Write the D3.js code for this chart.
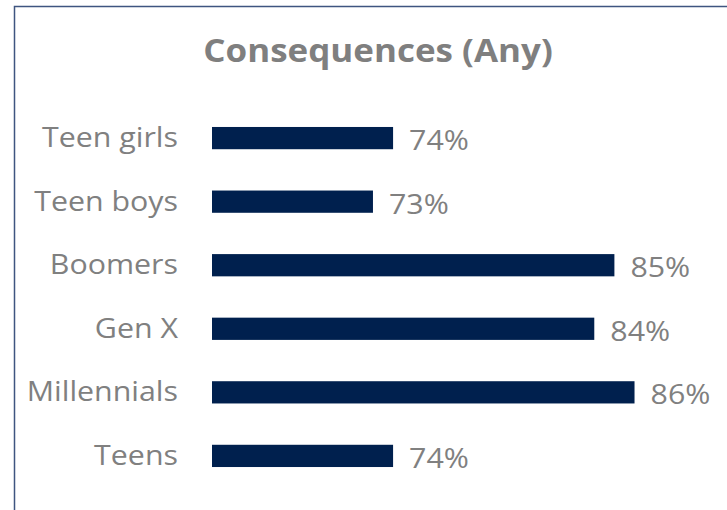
<!DOCTYPE html>
<html>
<head>
<meta charset="utf-8">
<script src="https://cdn.jsdelivr.net/npm/d3@7"></script>
<style>
  body { margin: 0; background: #fff; }
  svg { display: block; font-family: "Open Sans", "Noto Sans", sans-serif; }
</style>
</head>
<body>
<svg id="chart" width="727" height="510"></svg>
<script>
// Donnees du graphique
const categories = ["Teen girls", "Teen boys", "Boomers", "Gen X", "Millennials", "Teens"];
const values = [0.74, 0.73, 0.85, 0.84, 0.86, 0.74];
const title = "Consequences (Any)";

// Le texte de la reference est un peu etire horizontalement
const stretch = 1.125;

const svg = d3.select("#chart");

// Cadre du graphique
svg.append("rect")
    .attr("x", 14.5)
    .attr("y", 6.5)
    .attr("width", 740)
    .attr("height", 540)
    .attr("fill", "#fff")
    .attr("stroke", "#3f5580")
    .attr("stroke-width", 1.5);

// Titre
svg.append("text")
    .attr("transform", "translate(378,62) scale(1.06,1)")
    .attr("text-anchor", "middle")
    .attr("font-size", 33)
    .attr("font-weight", "bold")
    .attr("fill", "#7f7f7f")
    .text(title);

// Echelles (l'axe commence a 65%)
const xScale = d3.scaleLinear()
    .domain([0.65, 0.90])
    .range([212, 715]);

const yScale = d3.scaleBand()
    .domain(categories)
    .range([106, 488])
    .paddingInner(0.65)
    .paddingOuter(0.33);

const data = categories.map((c, i) => ({ name: c, value: values[i] }));
const mid = d => yScale(d.name) + yScale.bandwidth() / 2;

// Barres
svg.append("g")
    .selectAll("rect")
    .data(data)
    .enter()
    .append("rect")
    .attr("x", xScale(0.65))
    .attr("y", d => yScale(d.name))
    .attr("width", d => xScale(d.value) - xScale(0.65))
    .attr("height", yScale.bandwidth())
    .attr("fill", "#00204e");

// Etiquettes des categories
svg.append("g")
    .selectAll("text")
    .data(data)
    .enter()
    .append("text")
    .attr("transform", d => `translate(178,${mid(d) + 9}) scale(${stretch},1)`)
    .attr("text-anchor", "end")
    .attr("font-size", 27)
    .attr("fill", "#808080")
    .text(d => d.name);

// Etiquettes des valeurs
svg.append("g")
    .selectAll("text")
    .data(data)
    .enter()
    .append("text")
    .attr("transform", d => `translate(${xScale(d.value) + 16},${mid(d) + 12}) scale(${stretch},1)`)
    .attr("font-size", 27)
    .attr("fill", "#808080")
    .text(d => d3.format(".0%")(d.value));
</script>
</body>
</html>
